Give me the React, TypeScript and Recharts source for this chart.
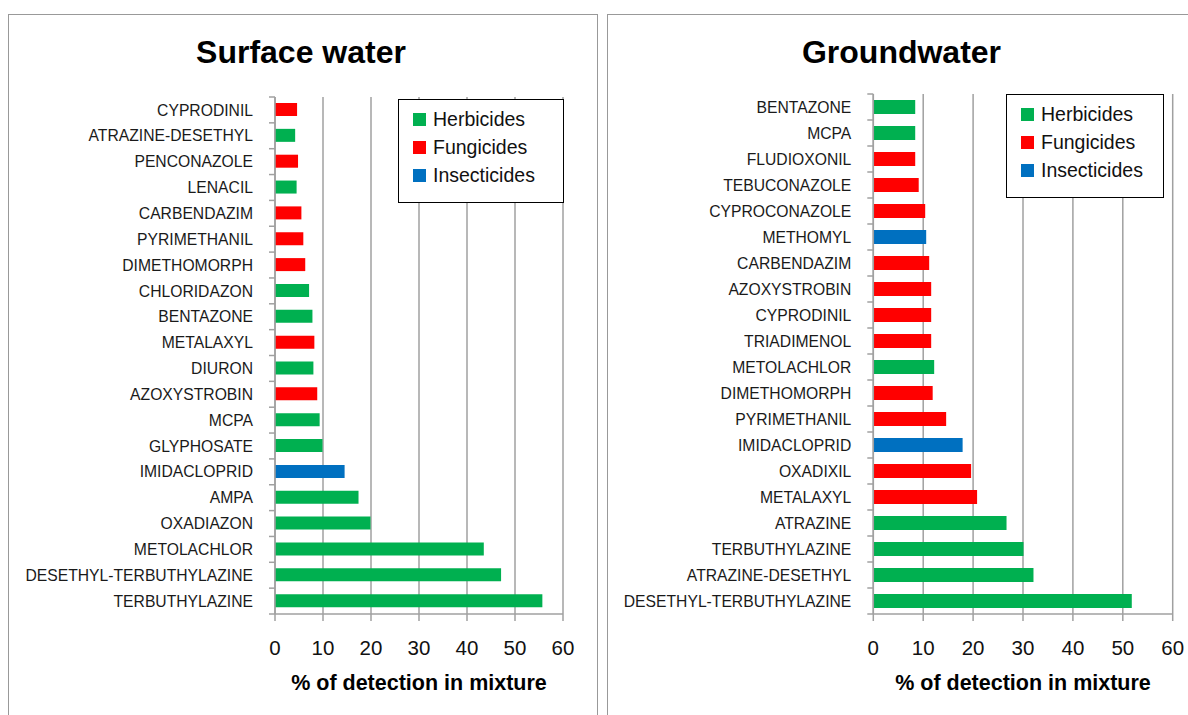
import React from "react";
import { BarChart, Bar, XAxis, YAxis, CartesianGrid, Cell, Legend } from "recharts";

// pesticide classes
const classNames = ["Herbicides", "Fungicides", "Insecticides"];
const classColors = ["#00B050", "#FF0000", "#0070C0"];

// surface water, top to bottom
const surfaceNames = [
  "CYPRODINIL",
  "ATRAZINE-DESETHYL",
  "PENCONAZOLE",
  "LENACIL",
  "CARBENDAZIM",
  "PYRIMETHANIL",
  "DIMETHOMORPH",
  "CHLORIDAZON",
  "BENTAZONE",
  "METALAXYL",
  "DIURON",
  "AZOXYSTROBIN",
  "MCPA",
  "GLYPHOSATE",
  "IMIDACLOPRID",
  "AMPA",
  "OXADIAZON",
  "METOLACHLOR",
  "DESETHYL-TERBUTHYLAZINE",
  "TERBUTHYLAZINE",
];
const surfaceValues = [4.6, 4.2, 4.8, 4.5, 5.5, 5.9, 6.3, 7.1, 7.8, 8.2, 8.0, 8.8, 9.3, 9.9, 14.5, 17.4, 19.9, 43.5, 47.1, 55.7];
// 0 = herbicide, 1 = fungicide, 2 = insecticide
const surfaceClasses = [1, 0, 1, 0, 1, 1, 1, 0, 0, 1, 0, 1, 0, 0, 2, 0, 0, 0, 0, 0];

// groundwater, top to bottom
const groundNames = [
  "BENTAZONE",
  "MCPA",
  "FLUDIOXONIL",
  "TEBUCONAZOLE",
  "CYPROCONAZOLE",
  "METHOMYL",
  "CARBENDAZIM",
  "AZOXYSTROBIN",
  "CYPRODINIL",
  "TRIADIMENOL",
  "METOLACHLOR",
  "DIMETHOMORPH",
  "PYRIMETHANIL",
  "IMIDACLOPRID",
  "OXADIXIL",
  "METALAXYL",
  "ATRAZINE",
  "TERBUTHYLAZINE",
  "ATRAZINE-DESETHYL",
  "DESETHYL-TERBUTHYLAZINE",
];
const groundValues = [8.4, 8.4, 8.4, 9.1, 10.4, 10.6, 11.2, 11.6, 11.6, 11.6, 12.2, 11.9, 14.6, 17.9, 19.6, 20.8, 26.7, 30.1, 32.1, 51.8];
const groundClasses = [0, 0, 1, 1, 1, 2, 1, 1, 1, 1, 0, 1, 1, 2, 1, 1, 0, 0, 0, 0];

const xTicks = [0, 10, 20, 30, 40, 50, 60];

const FONT = '"Liberation Sans", Arial, sans-serif';
const GRID = "#a0a0a0";
const LABEL_GAP = 22;

function CategoryTick(props: any) {
  const { x, y, payload, index, half, count } = props;
  const ax = x + LABEL_GAP;
  return (
    <g>
      <line x1={ax - 6} x2={ax} y1={y - half} y2={y - half} stroke={GRID} strokeWidth={1.5} />
      {index === count - 1 && (
        <line x1={ax - 6} x2={ax} y1={y + half} y2={y + half} stroke={GRID} strokeWidth={1.5} />
      )}
      <text x={x} y={y} dy="0.36em" textAnchor="end" fill="#1a1a1a" fontSize={15.7} fontFamily={FONT}>
        {payload.value}
      </text>
    </g>
  );
}

function LegendBox() {
  return (
    <div
      style={{
        border: "1.5px solid #000",
        background: "#fff",
        boxSizing: "border-box",
        width: "100%",
        height: "100%",
        padding: "6px 0 0 14px",
        fontFamily: FONT,
        fontSize: 19.5,
        color: "#111",
      }}
    >
      {classNames.map((n, i) => (
        <div key={n} style={{ display: "flex", alignItems: "center", height: 27.7 }}>
          <span style={{ width: 13, height: 13, background: classColors[i], marginRight: 7 }} />
          {n}
        </div>
      ))}
    </div>
  );
}

function Panel({
  title,
  titleCenter,
  names,
  values,
  classes,
  left,
  width,
  plotLeft,
  plotRight,
  plotTop,
  barSize,
  legendPos,
}: {
  title: string;
  titleCenter: number;
  names: string[];
  values: number[];
  classes: number[];
  left: number;
  width: number;
  plotLeft: number;
  plotRight: number;
  plotTop: number;
  barSize: number;
  legendPos: { left: number; top: number; width: number; height: number };
}) {
  const height = 715;
  const plotBottom = 614;
  const data = names.map((n, i) => ({ name: n, value: values[i], cls: classes[i] }));
  const half = (plotBottom - plotTop) / names.length / 2;

  return (
    <div style={{ position: "absolute", left, top: 0, width, height }}>
      <BarChart
        width={width}
        height={height}
        data={data}
        layout="vertical"
        margin={{ top: plotTop, left: plotLeft - 260, right: width - plotRight, bottom: height - plotBottom - 90 }}
      >
        <CartesianGrid horizontal={false} stroke={GRID} strokeWidth={1.5} />
        <XAxis
          type="number"
          domain={[0, 60]}
          ticks={xTicks}
          interval={0}
          height={90}
          stroke={GRID}
          strokeWidth={1.5}
          tickSize={7}
          tickMargin={19}
          tick={{ fill: "#111", fontSize: 20.5, fontFamily: FONT }}
          label={{
            value: "% of detection in mixture",
            position: "insideBottom",
            offset: 14,
            fill: "#000",
            fontSize: 21.5,
            fontWeight: "bold",
            fontFamily: FONT,
          }}
        />
        <YAxis
          type="category"
          dataKey="name"
          width={260}
          interval={0}
          tickLine={false}
          tickSize={0}
          tickMargin={LABEL_GAP}
          stroke={GRID}
          strokeWidth={1.5}
          tick={<CategoryTick half={half} count={names.length} />}
        />
        <Legend
          layout="horizontal"
          verticalAlign="middle"
          align="center"
          wrapperStyle={{ ...legendPos, position: "absolute" }}
          content={() => <LegendBox />}
        />
        <Bar dataKey="value" barSize={barSize} isAnimationActive={false}>
          {data.map((d) => (
            <Cell key={d.name} fill={classColors[d.cls]} />
          ))}
        </Bar>
      </BarChart>
      <div
        style={{
          position: "absolute",
          top: 36,
          left: titleCenter - left - 200,
          width: 400,
          textAlign: "center",
          lineHeight: 1,
          fontFamily: FONT,
          fontWeight: "bold",
          fontSize: 32,
          color: "#000",
          whiteSpace: "nowrap",
        }}
      >
        {title}
      </div>
    </div>
  );
}

export default function App() {
  return (
    <div
      style={{
        position: "fixed",
        left: 0,
        top: 0,
        width: 1188,
        height: 715,
        background: "#fff",
        overflow: "hidden",
      }}
    >
      <div
        style={{
          position: "absolute",
          left: 8,
          top: 14,
          width: 590,
          height: 720,
          border: "1.5px solid #999",
          boxSizing: "border-box",
        }}
      />
      <div
        style={{
          position: "absolute",
          left: 607,
          top: 14,
          width: 600,
          height: 720,
          border: "1.5px solid #999",
          boxSizing: "border-box",
        }}
      />
      <Panel
        title="Surface water"
        titleCenter={301}
        names={surfaceNames}
        values={surfaceValues}
        classes={surfaceClasses}
        left={0}
        width={600}
        plotLeft={275}
        plotRight={563}
        plotTop={97}
        barSize={13}
        legendPos={{ left: 398, top: 99, width: 166, height: 104 }}
      />
      <Panel
        title="Groundwater"
        titleCenter={901.5}
        names={groundNames}
        values={groundValues}
        classes={groundClasses}
        left={600}
        width={588}
        plotLeft={273.3}
        plotRight={572.7}
        plotTop={94}
        barSize={14}
        legendPos={{ left: 406, top: 94, width: 158, height: 104 }}
      />
    </div>
  );
}
